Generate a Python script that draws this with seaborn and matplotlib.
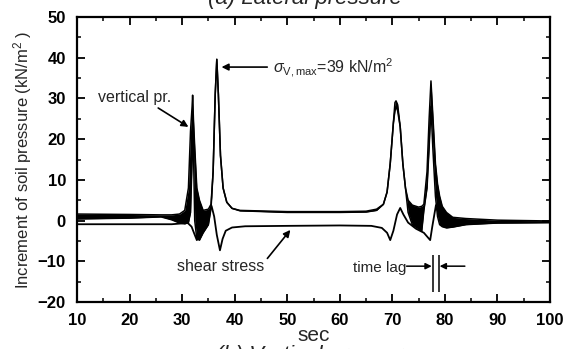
import numpy as np
import pandas as pd
import matplotlib
matplotlib.use("Agg")
import matplotlib.pyplot as plt
import seaborn as sns

# ---- vertical soil pressure: envelope of the recorded signal (kN/m^2) ----
vp_time = [10, 20, 26, 28, 29.5, 30.5, 31.2, 31.6, 31.9, 32.0, 32.15, 32.4, 32.8,
           33.3, 34.0, 35.0, 35.5, 35.9, 36.3, 36.6, 36.9, 37.3, 37.8, 38.5, 39.5,
           41, 50, 60, 65, 67, 68.3, 69.0, 69.6, 70.2, 70.5, 70.7, 71.0, 71.5, 72.0,
           72.5, 73.0, 73.8, 75.0, 75.6, 76.0, 76.6, 77.0, 77.35, 77.7, 78.2, 78.6,
           79.0, 79.5, 80.3, 81.5, 84, 90, 100]
vp_upper = [1.6, 1.5, 1.4, 1.4, 1.6, 2.5, 8, 22, 28, 30.8, 25, 18, 8,
            5, 2.5, 2.8, 4, 12, 31, 39.6, 31, 16, 8, 4.5, 3,
            2.5, 2.2, 2.2, 2.3, 2.8, 4, 7, 14, 24, 29, 29.4, 28.5, 23, 14,
            8, 5, 3.8, 3.3, 3.5, 4, 12, 25, 34.3, 26, 14, 9,
            6, 3.5, 2, 0.8, 0.5, 0.1, -0.1]
vp_lower = [0.4, 0.6, 0.9, 0.2, -0.6, -0.8, -0.5, 2, 15, 26, 18, 0, -4.5,
            -4.8, -3, -1, 3, 12, 31, 39.6, 31, 16, 8, 4.5, 3,
            2.4, 2.0, 2.0, 2.1, 2.5, 4, 7, 14, 24, 27, 28, 27, 23, 14,
            8, 2, -1, -2, -2.5, 2.5, 8, 18, 28, 18, 6, 1,
            -1.0, -1.5, -1.8, -1.6, -1.0, -0.6, -0.5]

# ---- shear stress trace (kN/m^2) ----
sh_time = [10, 28, 30, 31, 31.8, 32.4, 32.8, 33.3, 34.2, 35.0, 35.6, 36.1, 36.6,
           37.2, 37.7, 38.3, 39.5, 42, 50, 60, 66, 68, 69, 69.6, 70.2, 70.9, 71.5,
           72.1, 73, 74.5, 76, 77.2, 77.6, 78.3, 79.0, 79.8, 81, 85, 100]
sh_value = [-0.9, -0.9, -0.7, -0.5, -1.5, -3.5, -4.8, -3.5, -1, 1.5, 3.6, 1.0, -3.5,
            -7.3, -4.5, -2.5, -1.7, -1.4, -1.3, -1.2, -1.3, -1.8, -3, -4.8, -2.5, 1.5, 3.1,
            1.5, -0.5, -2, -3, -4.8, -1.5, 3.8, 1.0, 0, -0.8, -0.5, -0.4]

x_ticks = [10, 20, 30, 40, 50, 60, 70, 80, 90, 100]
y_ticks = [-20, -10, 0, 10, 20, 30, 40, 50]

vp = pd.DataFrame({"t": vp_time, "upper": vp_upper, "lower": vp_lower})
sh = pd.DataFrame({"t": sh_time, "v": sh_value})

sns.set_theme(style="ticks")
plt.rcParams["font.family"] = ["Liberation Sans", "DejaVu Sans"]
plt.rcParams["mathtext.fontset"] = "custom"
plt.rcParams["mathtext.rm"] = "Liberation Sans"
plt.rcParams["mathtext.it"] = "Liberation Sans:italic"

fig = plt.figure(figsize=(5.66, 3.49), dpi=100)
ax = fig.add_axes([77 / 566, 1 - 302 / 349, (550 - 77) / 566, (302 - 17) / 349])

# vertical pressure: filled oscillation band with its two edges
ax.fill_between(vp["t"], vp["lower"], vp["upper"], color="black", lw=0)
sns.lineplot(data=vp, x="t", y="upper", ax=ax, color="black", lw=1.1,
             sort=False, estimator=None)
sns.lineplot(data=vp, x="t", y="lower", ax=ax, color="black", lw=1.1,
             sort=False, estimator=None)
# shear stress
sns.lineplot(data=sh, x="t", y="v", ax=ax, color="black", lw=1.3,
             sort=False, estimator=None)

ax.set_xlim(10, 100)
ax.set_ylim(-20, 50)
ax.set_xticks(x_ticks)
ax.set_yticks(y_ticks)
ax.set_xticks(np.arange(15, 100, 10), minor=True)
ax.set_yticks(np.arange(-15, 50, 10), minor=True)
ax.tick_params(which="both", direction="in", top=True, right=True, colors="black")
ax.tick_params(which="major", length=6, width=1.3, pad=8, labelsize=12)
ax.tick_params(which="minor", length=3, width=1.1)
for lab in ax.get_xticklabels() + ax.get_yticklabels():
    lab.set_fontweight("bold")
for s in ax.spines.values():
    s.set_linewidth(1.6)
    s.set_color("black")

ax.set_xlabel("sec", fontsize=15, labelpad=-1.5)
ax.set_ylabel("Increment of soil pressure (kN/m$^2$ )", fontsize=12, labelpad=3)

# annotations
ax.annotate("vertical pr.", xy=(31.2, 23.0), xytext=(14.0, 30.3),
            fontsize=11.5, va="center", ha="left",
            arrowprops=dict(arrowstyle="-|>", color="black", lw=1.2,
                            shrinkA=0, shrinkB=0, mutation_scale=10,
                            relpos=(0.75, 0.0)))
ax.annotate("", xy=(37.5, 37.7), xytext=(46.2, 37.7),
            arrowprops=dict(arrowstyle="-|>", color="black", lw=1.2,
                            shrinkA=0, shrinkB=0, mutation_scale=10))
ax.text(47.2, 37.6, r"$\sigma_{\rm V,max}$=39 kN/m$^2$", fontsize=11.5,
        va="center", ha="left")
ax.annotate("shear stress", xy=(50.6, -2.3), xytext=(37.3, -11.4),
            fontsize=11.5, va="center", ha="center",
            arrowprops=dict(arrowstyle="-|>", color="black", lw=1.2,
                            shrinkA=0, shrinkB=0, mutation_scale=10,
                            relpos=(1.0, 0.8)))
ax.text(72.6, -11.6, "time lag", fontsize=11, va="center", ha="right")
ax.annotate("", xy=(77.5, -11.2), xytext=(72.7, -11.2),
            arrowprops=dict(arrowstyle="-|>", color="black", lw=1.1,
                            shrinkA=0, shrinkB=0, mutation_scale=9))
ax.annotate("", xy=(79.0, -11.2), xytext=(83.8, -11.2),
            arrowprops=dict(arrowstyle="-|>", color="black", lw=1.1,
                            shrinkA=0, shrinkB=0, mutation_scale=9))
ax.vlines([77.7, 78.8], -17.5, -8.5, color="black", lw=1.1)

# panel captions (the sheet continues above and below this panel)
fig.text(305 / 566, 1 - 4 / 349, "(a) Lateral pressure", fontsize=16,
         style="italic", ha="center", va="baseline")
fig.text(316 / 566, 1 - 345 / 349, "(b) Vertical pressure", fontsize=16,
         style="italic", ha="center", va="top")

fig.savefig("out.png", dpi=100, facecolor="white")
